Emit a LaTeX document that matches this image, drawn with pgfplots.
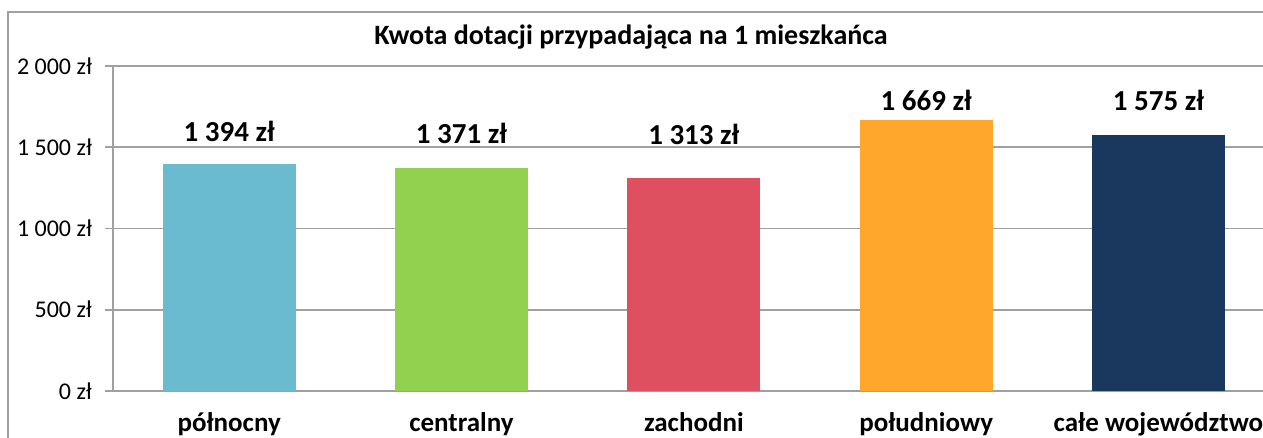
\documentclass[border=0pt]{standalone}
\usepackage{fontspec}
\setmainfont{Carlito}
\usepackage{pgfplots}
\pgfplotsset{compat=1.18}
\definecolor{cPoln}{RGB}{107,187,208}
\definecolor{cCent}{RGB}{146,208,80}
\definecolor{cZach}{RGB}{222,80,96}
\definecolor{cPold}{RGB}{255,167,42}
\definecolor{cWoj}{RGB}{26,55,94}
\definecolor{gridc}{RGB}{160,160,160}
\begin{document}
% 1 px of the reference = 0.5pt
\begin{tikzpicture}
\begin{axis}[at={(0,0)},anchor=south west,scale only axis,
  width=575pt,height=162.5pt,
  xmin=-0.5,xmax=4.45,ymin=0,ymax=2000,
  ytick={0,500,1000,1500,2000},
  yticklabels={0 zł,500 zł,1 000 zł,1 500 zł,2 000 zł},
  xtick={0,1,2,3,4},
  xticklabels={północny,centralny,zachodni,południowy,całe województwo},
  x tick label style={font=\fontsize{13.5}{16}\selectfont\bfseries,anchor=base,yshift=-16.5pt},
  y tick label style={font=\fontsize{12}{14}\selectfont,xshift=-3pt},
  major x tick style={draw=none},
  major y tick style={gridc,thick},
  major tick length=4pt,tick align=outside,
  ymajorgrids,major grid style={gridc,thick},
  axis x line*=bottom,axis y line*=left,
  axis line style={gridc,thick,-},
  ybar=0pt,bar width=66.5pt,bar shift=0pt,
  clip=false]
\addplot[draw=none,fill=cPoln] coordinates {(0,1394)};
\addplot[draw=none,fill=cCent] coordinates {(1,1371)};
\addplot[draw=none,fill=cZach] coordinates {(2,1313)};
\addplot[draw=none,fill=cPold] coordinates {(3,1669)};
\addplot[draw=none,fill=cWoj] coordinates {(4,1575)};
\begin{scope}[every node/.style={font=\fontsize{14.5}{17}\selectfont\bfseries,anchor=base}]
\node at (axis cs:0,1534) {1 394 zł};
\node at (axis cs:1,1526) {1 371 zł};
\node at (axis cs:2,1514) {1 313 zł};
\node at (axis cs:3,1729) {1 669 zł};
\node at (axis cs:4,1729) {1 575 zł};
\end{scope}
\end{axis}
\node[font=\fontsize{14}{17}\selectfont\bfseries,anchor=base] at (259pt,173pt)
  {Kwota dotacji przypadająca na 1 mieszkańca};
\draw[gridc,thick] (600pt,189.5pt) -- (-52.5pt,189.5pt) -- (-52.5pt,-40pt);
\pgfresetboundingbox
\useasboundingbox (-56.5pt,-23.5pt) rectangle (575pt,195.5pt);
\end{tikzpicture}
\end{document}
